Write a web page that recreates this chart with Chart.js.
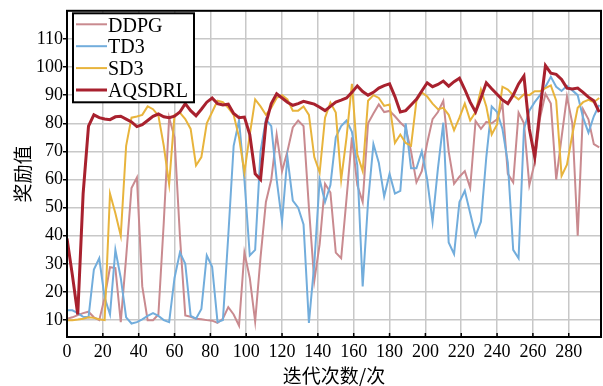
<!DOCTYPE html>
<html>
<head>
<meta charset="utf-8">
<script src="https://cdn.jsdelivr.net/npm/chart.js@4.4.1/dist/chart.umd.min.js"></script>
<style>
  html, body { margin: 0; padding: 0; background: #fff; }
  #wrap { width: 603px; height: 386px; }
</style>
</head>
<body>
<div id="wrap"><canvas id="reward-chart"></canvas></div>
<script>
// Courbes de récompense : DDPG / TD3 / SD3 / AQSDRL

// itérations échantillonnées (une valeur toutes les 3 itérations)
const iterations = [
  0, 3, 6, 9, 12, 15, 18, 21, 24, 27,
  30, 33, 36, 39, 42, 45, 48, 51, 54, 57,
  60, 63, 66, 69, 72, 75, 78, 81, 84, 87,
  90, 93, 96, 99, 102, 105, 108, 111, 114, 117,
  120, 123, 126, 129, 132, 135, 138, 141, 144, 147,
  150, 153, 156, 159, 162, 165, 168, 171, 174, 177,
  180, 183, 186, 189, 192, 195, 198, 201, 204, 207,
  210, 213, 216, 219, 222, 225, 228, 231, 234, 237,
  240, 243, 246, 249, 252, 255, 258, 261, 264, 267,
  270, 273, 276, 279, 282, 285, 288, 291, 294, 297
];

const ddpg = [
  10.5, 11, 11.8, 12.5, 13, 11, 10, 18, 28.8, 28.5,
  9.3, 32.3, 57, 60.7, 22, 10, 10, 12, 44.7, 82,
  75, 40, 11.7, 11.2, 10.5, 10.3, 10, 9.8, 9, 10.5,
  14.6, 12, 8, 34, 25, 9.5, 32.3, 52, 60, 76,
  63, 70, 78.5, 81, 79, 50, 24, 37, 58.5, 55.4,
  34, 32, 53.3, 75, 58, 52, 80, 83.5, 86.7, 84,
  84.4, 82.5, 80.3, 78.5, 70, 59, 63, 73, 81.5, 84,
  88, 70, 58.5, 61, 63, 57, 80.8, 78, 80.5, 80,
  81.4, 87, 62, 59, 83.8, 80, 58, 66, 82, 90.5,
  87, 60, 75, 89.5, 80, 40, 85, 81.4, 72.6, 71.4
];

const td3 = [
  13.5, 13.5, 12.5, 11.2, 11, 28, 32, 18, 12, 35,
  25, 11, 8.8, 9.3, 10.3, 11.5, 12.5, 11.5, 10, 9.3,
  25, 34, 30, 11.5, 10.5, 14, 33, 29, 9.3, 10,
  40, 72, 81, 60, 33, 35, 70, 81.4, 79, 60,
  45, 68, 52.5, 50, 44, 9, 30, 60, 52, 58,
  75, 79, 81, 77, 65, 22, 52, 72.6, 66, 54,
  62, 55, 56, 80, 64, 64, 70, 60, 45, 64,
  80.2, 37.6, 33.5, 52, 56, 48, 40, 45, 68, 86,
  84, 78, 66, 35, 32, 78, 84.5, 87.5, 90, 93,
  96.5, 93, 91.5, 93.3, 91.7, 90, 82, 76.7, 82.5, 86.5
];

const sd3 = [
  10, 10, 10.2, 10.5, 11, 10.8, 10.3, 10, 55, 48,
  40, 72, 82, 82.4, 83, 86, 85, 82.7, 72, 58.3,
  83, 83.8, 81.5, 78, 65, 68, 80, 84, 88, 87.5,
  85.5, 83, 75, 62.5, 76, 88.5, 86, 83, 85.5, 89,
  90, 88.5, 84.5, 84.5, 86, 83, 68, 62.5, 82, 87.3,
  83.8, 60, 75, 94, 69, 63, 88, 90, 89, 86.2,
  86.7, 73, 76, 73, 72, 88, 91, 89.5, 87, 85,
  85.5, 83, 77.5, 82, 87, 81, 84, 92, 86, 76,
  79.6, 93, 92, 90, 88.5, 90.3, 90, 91.4, 91.4, 92.5,
  93.5, 88, 61.3, 65.3, 76, 85.5, 87.5, 88.3, 87.5, 89
];

const aqsdrl = [
  39, 26, 12, 55, 79, 83, 82, 81.5, 81.3, 82.3,
  82.5, 81.5, 80.5, 78.8, 79.5, 81, 82.5, 83.3, 82.3, 82,
  82.5, 84, 87, 84.5, 82.7, 85, 87.5, 89, 87, 86.5,
  86.8, 83.5, 82, 82.2, 76, 62, 60, 80, 87, 90.5,
  89, 87.5, 86.4, 87, 87.8, 87.3, 86.8, 85.7, 84.5, 86,
  87.5, 88.2, 89, 91, 93.3, 91.3, 90, 91, 92.5, 93.4,
  94, 89.5, 84, 84.5, 86.5, 88.5, 91.5, 94.4, 93, 93.8,
  95, 93.2, 94.8, 96, 92, 87.5, 84, 89, 94.4, 92.3,
  90.3, 88.3, 87, 90, 94, 96.8, 78, 68, 85, 100.5,
  97.8, 97.4, 95.6, 92.5, 92.2, 92.5, 91, 89.3, 88, 84
];

const seriesNames = ['DDPG', 'TD3', 'SD3', 'AQSDRL'];
const xTickValues = [0, 20, 40, 60, 80, 100, 120, 140, 160, 180, 200, 220, 240, 260, 280];
const yTickValues = [10, 20, 30, 40, 50, 60, 70, 80, 90, 100, 110];

const serif = '"Liberation Serif", "Times New Roman", serif';
const cjk = '"Noto Sans CJK SC", sans-serif';

function toPoints(values) {
  return iterations.map((it, i) => ({ x: it, y: values[i] }));
}

// cadre noir + petites graduations vers l'intérieur + légende encadrée
const framePlugin = {
  id: 'frame',
  afterDatasetsDraw(chart) {
    const { ctx, chartArea: a, scales } = chart;
    ctx.save();
    ctx.strokeStyle = '#000';
    ctx.lineWidth = 2;
    ctx.strokeRect(a.left, a.top, a.right - a.left, a.bottom - a.top);

    ctx.lineWidth = 1.5;
    xTickValues.forEach(v => {
      const px = scales.x.getPixelForValue(v);
      ctx.beginPath();
      ctx.moveTo(px, a.bottom);
      ctx.lineTo(px, a.bottom - 4);
      ctx.stroke();
    });

    // légende
    const bx = a.left + 6, by = a.top + 2.5, bw = 121, bh = 89;
    ctx.fillStyle = '#fff';
    ctx.fillRect(bx, by, bw, bh);
    ctx.lineWidth = 2;
    ctx.strokeRect(bx, by, bw, bh);
    ctx.font = '20px ' + serif;
    ctx.textBaseline = 'middle';
    ctx.textAlign = 'left';
    chart.data.datasets.forEach((ds, i) => {
      const rowY = by + 11 + i * 21.9;
      ctx.strokeStyle = ds.borderColor;
      ctx.lineWidth = ds.borderWidth;
      ctx.beginPath();
      ctx.moveTo(bx + 3, rowY);
      ctx.lineTo(bx + 34, rowY);
      ctx.stroke();
      ctx.fillStyle = '#000';
      ctx.fillText(ds.label, bx + 35, rowY + 2);
    });
    ctx.restore();
  }
};

const chartElement = document.getElementById('reward-chart');

new Chart(chartElement, {
  type: 'line',
  data: {
    datasets: [
      { label: seriesNames[0], data: toPoints(ddpg), borderColor: '#c98a8f', borderWidth: 2, order: 3 },
      { label: seriesNames[1], data: toPoints(td3), borderColor: '#72addc', borderWidth: 2, order: 2 },
      { label: seriesNames[2], data: toPoints(sd3), borderColor: '#e8b43c', borderWidth: 2, order: 1 },
      { label: seriesNames[3], data: toPoints(aqsdrl), borderColor: '#a8212e', borderWidth: 3, order: 0 }
    ]
  },
  options: {
    responsive: true,
    maintainAspectRatio: false,
    animation: false,
    devicePixelRatio: 1,
    layout: { padding: { top: 7, right: 2, left: 0, bottom: 0 } },
    elements: {
      point: { radius: 0 },
      line: { tension: 0, fill: false }
    },
    plugins: {
      legend: { display: false },
      tooltip: { enabled: false }
    },
    scales: {
      x: {
        type: 'linear',
        min: 0,
        max: 298,
        afterBuildTicks: scale => { scale.ticks = xTickValues.map(v => ({ value: v })); },
        afterFit: scale => { scale.height = 49; },
        ticks: {
          color: '#000',
          font: { family: serif, size: 18 },
          padding: 4,
          maxRotation: 0,
          autoSkip: false
        },
        grid: { color: '#c8c8c8', lineWidth: 1.5, drawTicks: false },
        border: { display: true, color: '#000', width: 2 },
        title: {
          display: true,
          text: '迭代次数/次',
          color: '#000',
          font: { family: cjk, size: 19, lineHeight: 1 },
          padding: { top: 0, bottom: 1 }
        }
      },
      y: {
        min: 4,
        max: 120,
        afterBuildTicks: scale => { scale.ticks = yTickValues.map(v => ({ value: v })); },
        afterFit: scale => { scale.width = 67; },
        ticks: {
          color: '#000',
          font: { family: serif, size: 18 },
          padding: 0
        },
        grid: { color: '#c8c8c8', lineWidth: 1.5, tickColor: '#000', tickLength: 4 },
        border: { display: true, color: '#000', width: 2 },
        title: {
          display: true,
          text: '奖励值',
          color: '#000',
          font: { family: cjk, size: 19, lineHeight: 1 },
          padding: { top: 13, bottom: 0 }
        }
      }
    }
  },
  plugins: [framePlugin]
});
</script>
</body>
</html>
